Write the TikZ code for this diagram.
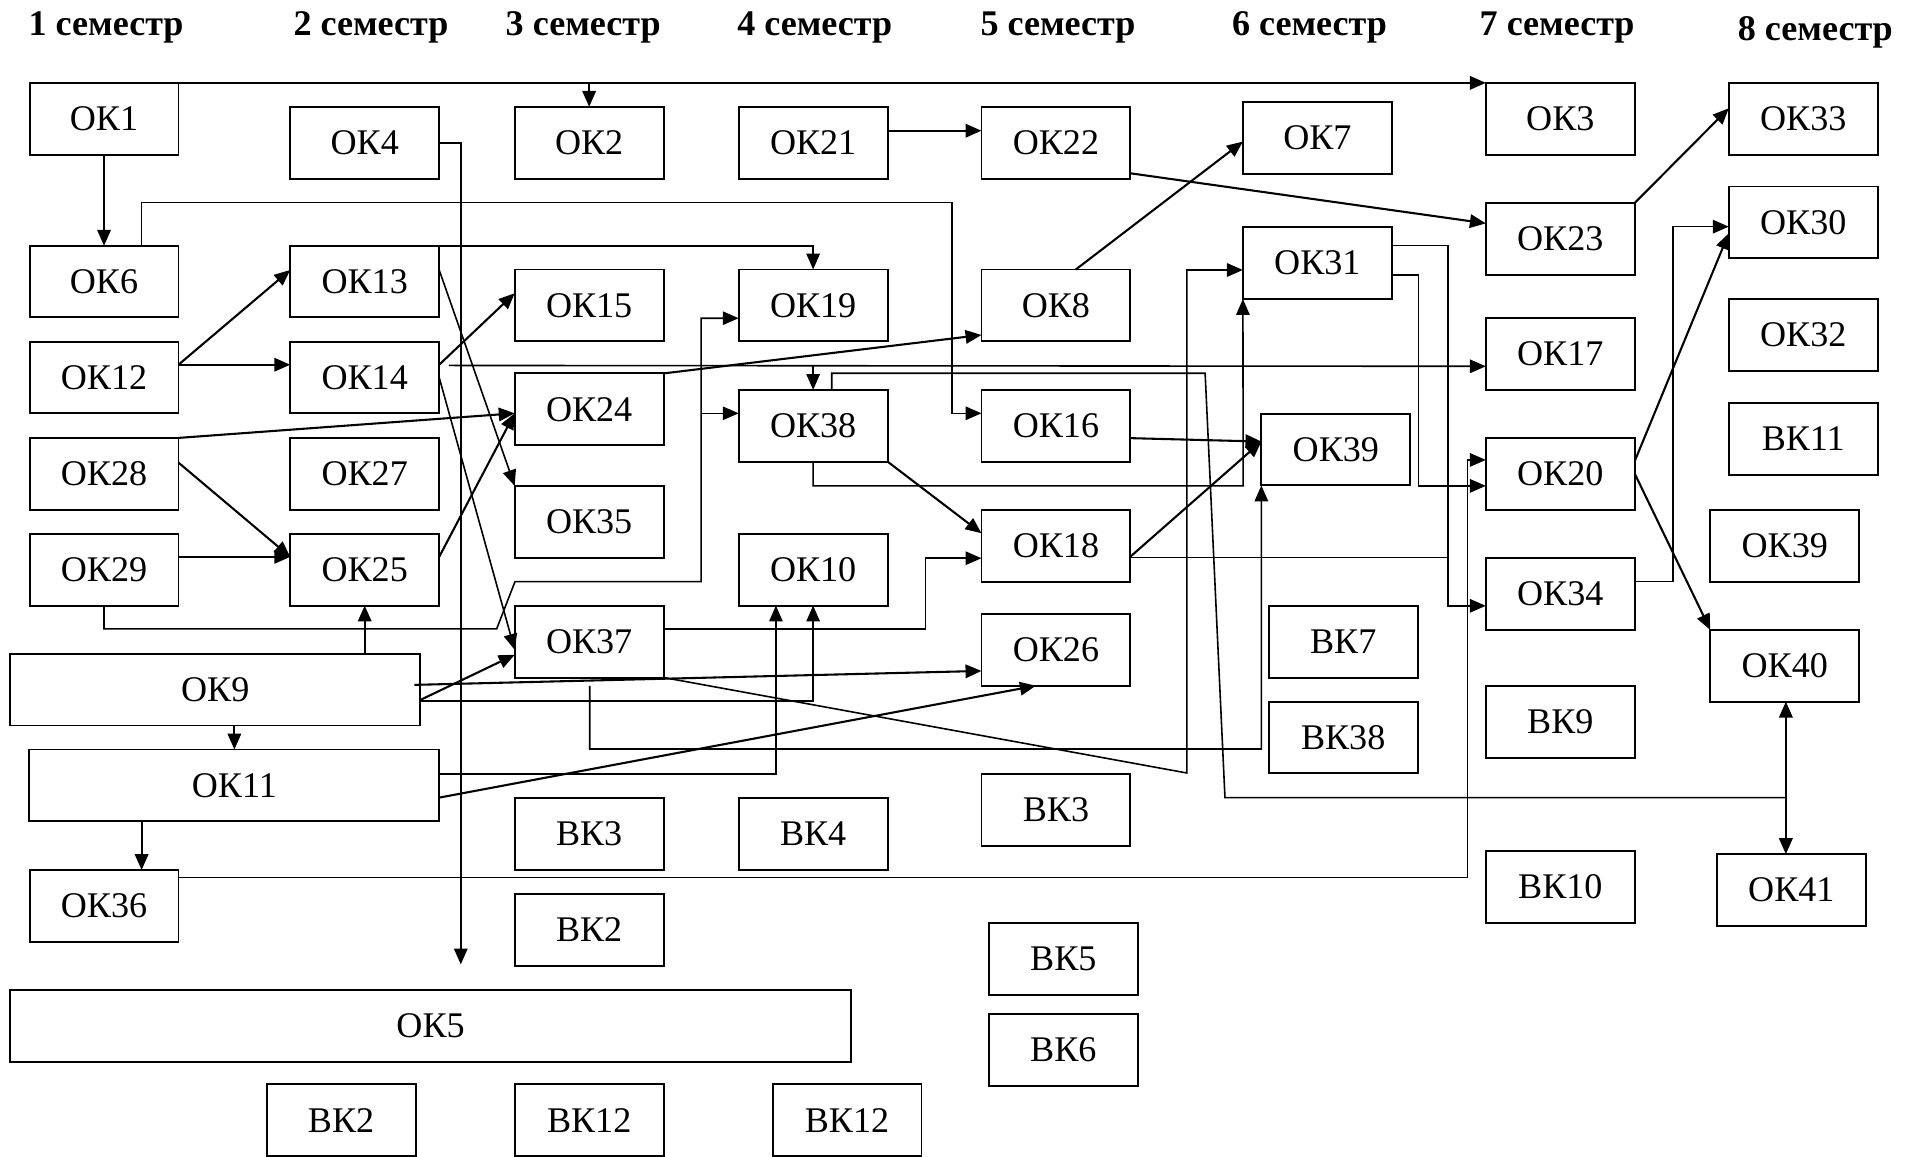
\documentclass[tikz,border=0pt]{standalone}
\usepackage{fontspec}
\setmainfont{Liberation Serif}
\usetikzlibrary{arrows.meta}
\begin{document}
\begin{tikzpicture}[x=1pt,y=-1pt,
  bx/.style={draw, line width=1.6pt, minimum width=121.7pt, minimum height=58.6pt, inner sep=0pt, outer sep=0pt, font=\fontsize{29.5}{34}\selectfont},
  hd/.style={anchor=base, font=\fontsize{29.5}{34}\selectfont\bfseries, inner sep=0pt},
  arw/.style={line width=1.7pt, -{Triangle[length=13pt,width=11pt]}},
  thn/.style={line width=1.3pt}]
\fill[white] (0,0) rectangle (1568,945.3);
\useasboundingbox (0,0) rectangle (1568,945.3);
% headers
\node[hd] (h1) at (86.7,28.6) {1 семестр};
\node[hd] (h2) at (303.1,28.6) {2 семестр};
\node[hd] (h3) at (476.5,28.6) {3 семестр};
\node[hd] (h4) at (665.7,28.6) {4 семестр};
\node[hd] (h5) at (864.5,28.6) {5 семестр};
\node[hd] (h6) at (1070,28.6) {6 семестр};
\node[hd] (h7) at (1272.3,28.6) {7 семестр};
\node[hd] (h8) at (1483.3,32.7) {8 семестр};
% column 1
\node[bx] (ok1) at (85,97) {ОК1};
\node[bx] (ok6) at (85,230.1) {ОК6};
\node[bx] (ok12) at (85,308.4) {ОК12};
\node[bx] (ok28) at (85,387.1) {ОК28};
\node[bx] (ok29) at (85,465.5) {ОК29};
\node[bx, minimum width=335.2pt] (ok9) at (175.9,563.5) {ОК9};
\node[bx, minimum width=335pt] (ok11) at (191.5,641.7) {ОК11};
\node[bx] (ok36) at (85,740.2) {ОК36};
\node[bx, minimum width=687pt] (ok5) at (351.8,838.1) {ОК5};
% column 2
\node[bx] (ok4) at (298,116.6) {ОК4};
\node[bx] (ok13) at (298,230.1) {ОК13};
\node[bx] (ok14) at (298,308.4) {ОК14};
\node[bx] (ok27) at (298,387.1) {ОК27};
\node[bx] (ok25) at (298,465.5) {ОК25};
\node[bx] (bk2b) at (278.7,915.3) {ВК2};
% column 3
\node[bx] (ok2) at (481.4,116.6) {ОК2};
\node[bx] (ok15) at (481.4,249.5) {ОК15};
\node[bx] (ok24) at (481.4,334.4) {ОК24};
\node[bx] (ok35) at (481.4,426.3) {ОК35};
\node[bx] (ok37) at (481.4,524.3) {ОК37};
\node[bx] (bk3a) at (481.4,681.2) {ВК3};
\node[bx] (bk2a) at (481.4,759.8) {ВК2};
\node[bx] (bk12a) at (481.4,915.3) {ВК12};
% column 4
\node[bx] (ok21) at (664.4,116.6) {ОК21};
\node[bx] (ok19) at (664.4,249.5) {ОК19};
\node[bx] (ok38) at (664.4,347.9) {ОК38};
\node[bx] (ok10) at (664.4,465.5) {ОК10};
\node[bx] (bk4) at (664.4,681.2) {ВК4};
\node[bx] (bk12b) at (692.1,915.3) {ВК12};
% column 5
\node[bx] (ok22) at (862.8,116.6) {ОК22};
\node[bx] (ok8) at (862.8,249.5) {ОК8};
\node[bx] (ok16) at (862.8,347.9) {ОК16};
\node[bx] (ok18) at (862.8,446) {ОК18};
\node[bx] (ok26) at (862.8,531) {ОК26};
\node[bx] (bk3b) at (862.8,661.8) {ВК3};
\node[bx] (bk5) at (868.8,783.7) {ВК5};
\node[bx] (bk6) at (868.8,857.8) {ВК6};
% column 6
\node[bx] (ok7) at (1076.4,112.5) {ОК7};
\node[bx] (ok31) at (1076.4,215) {ОК31};
\node[bx] (ok39a) at (1091.5,367.3) {ОК39};
\node[bx] (bk7) at (1097.5,524.3) {ВК7};
\node[bx] (bk38) at (1097.5,602.5) {ВК38};
% column 7
\node[bx] (ok3) at (1274.9,97) {ОК3};
\node[bx] (ok23) at (1274.9,195.1) {ОК23};
\node[bx] (ok17) at (1274.9,289) {ОК17};
\node[bx] (ok20) at (1274.9,387.1) {ОК20};
\node[bx] (ok34) at (1274.9,485.4) {ОК34};
\node[bx] (bk9) at (1274.9,589.8) {ВК9};
\node[bx] (bk10) at (1274.9,724.6) {ВК10};
% column 8
\node[bx] (ok33) at (1473.4,97) {ОК33};
\node[bx] (ok30) at (1473.4,181.7) {ОК30};
\node[bx] (ok32) at (1473.4,273.5) {ОК32};
\node[bx] (bk11) at (1473.4,358.7) {ВК11};
\node[bx] (ok39b) at (1458.3,446) {ОК39};
\node[bx] (ok40) at (1458.3,544) {ОК40};
\node[bx] (ok41) at (1463.7,727.2) {ОК41};
% connectors
\draw[arw] (ok1.north east) -- (ok3.north west);
\draw[arw] (ok2.north |- ok1.north) -- (ok2.north);
\coordinate (c4) at (376.5,788);
\draw[arw] (ok4.east) -| (c4);
\draw[arw] (ok1.south) -- (ok6.north);
\coordinate (c6a) at ([xshift=30.7pt]ok6.north);
\coordinate (c6b) at (778,165.6);
\coordinate (c16) at ([yshift=10.2pt]ok16.west);
\draw[arw,thn] (c6a) |- (c6b) |- (c16);
\draw[arw,thn] (ok13.north east) -| (ok19.north);
\coordinate (c12) at ([yshift=10.4pt]ok12.east);
\draw[arw] (c12) -- ([yshift=9.5pt]ok13.west);
\draw[arw] (c12) -- ([yshift=10.4pt]ok14.west);
\draw[arw] ([yshift=10.4pt]ok14.east) -- ([yshift=9.9pt]ok15.west);
\coordinate (c14) at (366.8,298.6);
\draw[arw,thn] (c14) -- ([yshift=-10.3pt]ok17.west);
\draw[arw,thn] (ok38.north |- c14) -- (ok38.north);
\draw[arw,thn] ([yshift=9.5pt]ok13.east) -- (ok35.north west);
\draw[arw,thn] (ok14.east) -- ([yshift=-6.7pt]ok37.west);
\draw[arw] (ok28.north east) -- ([yshift=-3.3pt]ok24.west);
\draw[arw] ([yshift=10.5pt]ok25.east) -- ([yshift=-3.3pt]ok24.west);
\draw[arw] ([yshift=9.1pt]ok28.east) -- ([yshift=10.5pt]ok25.west);
\draw[arw] ([yshift=10.5pt]ok29.east) -- ([yshift=10.5pt]ok25.west);
\coordinate (c29a) at (405.8,513.9);
\coordinate (c29b) at (420.8,475.2);
\coordinate (c29c) at (572.9,475.2);
\coordinate (c19) at ([yshift=-10.5pt]ok19.west);
\coordinate (c38w) at ([yshift=10.2pt]ok38.west);
\draw[arw,thn] (ok29.south) |- (c29a) -- (c29b) -- (c29c) |- (c19);
\draw[arw,thn] (c29c |- c38w) -- (c38w);
\draw[arw] (ok25.south |- ok9.north) -- (ok25.south);
\draw[arw] (ok11.north |- ok9.south) -- (ok11.north);
\draw[arw] ([yshift=-8.4pt]ok9.east) -- ([yshift=-10.7pt]ok37.west);
\draw[arw] ([xshift=-5pt,yshift=3.9pt]ok9.east) -- ([yshift=-17.2pt]ok26.west);
\draw[arw,thn] ([yshift=-9.5pt]ok9.east) -| (ok10.south);
\coordinate (c37) at (756.3,456.1);
\draw[arw,thn] ([yshift=10.3pt]ok37.east) -| (c37) -- (c37 -| ok18.west);
\coordinate (c31a) at (969.8,631.6);
\draw[arw,thn] (ok37.south east) -- (c31a) |- ([yshift=-5.6pt]ok31.west);
\coordinate (c37b) at (481.9,560.5);
\coordinate (c37c) at (1030.7,612);
\draw[arw,thn] (c37b) |- (c37c) -- (ok39a.south west);
\draw[arw,thn] ([yshift=9.3pt]ok11.east) -| ([xshift=-30.4pt]ok10.south);
\draw[arw] ([yshift=-10pt]ok11.east) -- ([xshift=-16.4pt]ok26.south);
\coordinate (c36) at ([xshift=30.7pt]ok36.north);
\draw[arw] (c36 |- ok11.south) -- (c36);
\coordinate (c20a) at (1199.2,375.8);
\draw[arw,thn] ([yshift=23.2pt]ok36.east) -| (c20a) -- (c20a -| ok20.west);
\coordinate (c31b) at (1159.1,397);
\draw[arw,thn] ([yshift=-9.7pt]ok31.east) -| (c31b) -- (c31b -| ok20.west);
\coordinate (c34) at (1183.1,495);
\draw[arw,thn] ([yshift=14.3pt]ok31.east) -| (c34) -- (c34 -| ok34.west);
\coordinate (c18) at ([yshift=-9.6pt]ok18.east);
\draw[thn] (c18) -- (c18 -| c34);
\coordinate (c30) at (1366.8,185.2);
\draw[arw,thn] ([yshift=10.2pt]ok34.east) -| (c30) -- (c30 -| ok30.west);
\draw[arw] ([yshift=10.4pt]ok20.east) -- ([yshift=-8.9pt]ok30.west);
\draw[arw] (ok20.east) -- (ok40.north west);
\coordinate (c38a) at ([xshift=15.2pt]ok38.north);
\coordinate (c38b) at (984.7,305);
\coordinate (c38c) at (1000.9,651.7);
\coordinate (c40) at (1459.2,651.7);
\draw[thn] (c38a) |- (c38b) -- (c38c) -- (c40);
\draw[arw] (c40) -- (c40 |- ok40.south);
\draw[arw] (c40) -- (c40 |- ok41.north);
\draw[arw] ([yshift=9.8pt]ok21.east) -- ([yshift=9.8pt]ok22.west);
\draw[arw] ([yshift=-25pt]ok22.east) -- ([yshift=12.6pt]ok23.west);
\draw[arw] ([xshift=16.2pt]ok8.north) -- ([yshift=-3.2pt]ok7.west);
\draw[arw] (ok24.north east) -- ([yshift=-24.2pt]ok8.west);
\draw[arw] (ok23.north east) -- ([yshift=8.5pt]ok33.west);
\draw[arw] ([yshift=-10.1pt]ok16.east) -- ([yshift=6.5pt]ok39a.west);
\draw[arw] ([yshift=-8.8pt]ok18.east) -- ([yshift=6.5pt]ok39a.west);
\draw[arw] (ok38.south east) -- ([yshift=10.3pt]ok18.west);
\coordinate (c38d) at (1015.8,397);
\draw[arw,thn] (ok38.south) |- (c38d) -- (ok31.south west);
\end{tikzpicture}
\end{document}
